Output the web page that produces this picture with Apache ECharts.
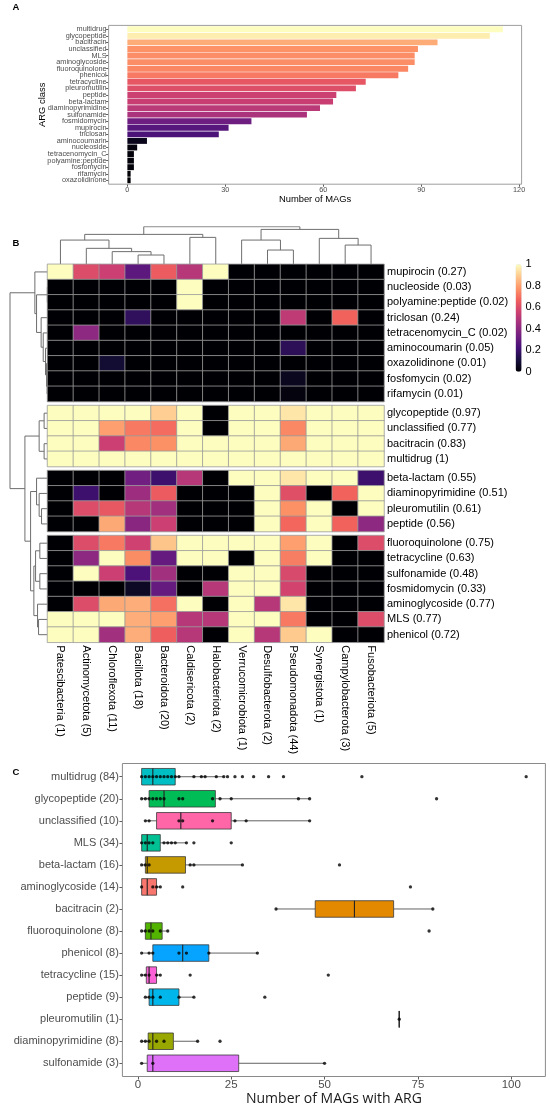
<!DOCTYPE html>
<html>
<head>
<meta charset="utf-8">
<script src="https://cdn.jsdelivr.net/npm/echarts@6/dist/echarts.min.js"></script>
<style>
html, body { margin: 0; padding: 0; background: #fff; }
#main { width: 550px; height: 1115px; }
</style>
</head>
<body>
<div id="main"></div>
<script>
// magma palette (viridisLite magma(10))
var magma = ['#000004', '#180F3E', '#451077', '#721F81', '#9F2F7F', '#CD4071', '#F1605D', '#FD9567', '#FEC98D', '#FCFDBF'];

// ---- panel A : number of MAGs per ARG class
var argClass = ['multidrug', 'glycopeptide', 'bacitracin', 'unclassified', 'MLS', 'aminoglycoside',
    'fluoroquinolone', 'phenicol', 'tetracycline', 'pleuromutilin', 'peptide', 'beta-lactam',
    'diaminopyrimidine', 'sulfonamide', 'fosmidomycin', 'mupirocin', 'triclosan', 'aminocoumarin',
    'nucleoside', 'tetracenomycin_C', 'polyamine:peptide', 'fosfomycin', 'rifamycin', 'oxazolidinone'];
var argCount = [115, 111, 95, 89, 88, 88, 86, 83, 73, 70, 64, 63, 59, 55, 38, 31, 28, 6, 3, 2, 2, 2, 1, 1];
var axisTicksA = [0, 30, 60, 90, 120];

// ---- panel B : heatmap (share of MAGs per phylum)
var phyla = ['Patescibacteria (1)', 'Actinomycetota (5)', 'Chloroflexota (11)', 'Bacillota (18)',
    'Bacteroidota (20)', 'Caldisericota (2)', 'Halobacteriota (2)', 'Verrucomicrobiota (1)',
    'Desulfobacterota (2)', 'Pseudomonadota (44)', 'Synergistota (1)', 'Campylobacterota (3)',
    'Fusobacteriota (5)'];
var hmRows = ['mupirocin (0.27)', 'nucleoside (0.03)', 'polyamine:peptide (0.02)', 'triclosan (0.24)',
    'tetracenomycin_C (0.02)', 'aminocoumarin (0.05)', 'oxazolidinone (0.01)', 'fosfomycin (0.02)',
    'rifamycin (0.01)', 'glycopeptide (0.97)', 'unclassified (0.77)', 'bacitracin (0.83)', 'multidrug (1)',
    'beta-lactam (0.55)', 'diaminopyrimidine (0.51)', 'pleuromutilin (0.61)', 'peptide (0.56)',
    'fluoroquinolone (0.75)', 'tetracycline (0.63)', 'sulfonamide (0.48)', 'fosmidomycin (0.33)',
    'aminoglycoside (0.77)', 'MLS (0.77)', 'phenicol (0.72)'];
var hmValues = [
    [1, 0.6, 0.55, 0.28, 0.65, 0.5, 1, 0, 0, 0, 0, 0, 0],
    [0, 0, 0, 0, 0, 1, 0, 0, 0, 0, 0, 0, 0],
    [0, 0, 0, 0, 0, 1, 0, 0, 0, 0, 0, 0, 0],
    [0, 0, 0, 0.17, 0, 0, 0, 0, 0, 0.52, 0, 0.67, 0],
    [0, 0.4, 0, 0, 0, 0, 0, 0, 0, 0, 0, 0, 0],
    [0, 0, 0, 0, 0, 0, 0, 0, 0, 0.16, 0, 0, 0],
    [0, 0, 0.09, 0, 0, 0, 0, 0, 0, 0, 0, 0, 0],
    [0, 0, 0, 0, 0, 0, 0, 0, 0, 0.05, 0, 0, 0],
    [0, 0, 0, 0, 0, 0, 0, 0, 0, 0.02, 0, 0, 0],
    [1, 1, 1, 1, 0.9, 1, 0, 1, 1, 0.95, 1, 1, 1],
    [1, 1, 0.8, 0.72, 0.69, 1, 0, 1, 1, 0.75, 1, 1, 1],
    [1, 1, 0.55, 0.75, 0.77, 1, 1, 1, 1, 0.82, 1, 1, 1],
    [1, 1, 1, 1, 1, 1, 1, 1, 1, 1, 1, 1, 1],
    [0, 0, 0, 0.33, 0.2, 0.5, 0, 1, 1, 0.95, 1, 1, 0.2],
    [0, 0.2, 0, 0.44, 0.65, 0, 0, 0, 1, 0.61, 0, 0.67, 1],
    [0, 0.6, 0.64, 0.5, 0.45, 0, 0, 0, 1, 0.77, 1, 0, 1],
    [0, 0, 0.82, 0.39, 0.55, 0, 0, 0, 1, 0.68, 1, 0.67, 0.4],
    [0, 0.6, 0.72, 0.56, 0.88, 1, 1, 1, 1, 0.8, 1, 0, 0.6],
    [0, 0.4, 1, 0.76, 0.3, 1, 1, 0, 1, 0.73, 1, 0, 0],
    [0, 1, 0.55, 0.24, 0.45, 0, 0, 1, 1, 0.59, 0, 0, 0],
    [0, 0, 0, 0.06, 0.3, 0, 0.5, 1, 1, 0.57, 0, 0, 0],
    [0, 0.6, 0.82, 0.83, 0.7, 1, 0, 1, 0.5, 0.95, 0, 0, 0],
    [1, 1, 1, 0.83, 0.8, 0.5, 0.5, 1, 1, 0.72, 0, 0, 0.6],
    [1, 1, 0.45, 0.83, 0.66, 0.5, 0, 1, 0.5, 0.89, 1, 0, 0]
];
var rowGaps = [9, 13, 17];
// hclust style merges: negative = leaf, positive = earlier merge
var colMerge = [[-4, -5], [-3, 1], [-2, 2], [-1, 3], [-6, -7], [4, 5], [-9, -10], [-8, 7], [-12, -13], [-11, 9], [8, 10], [6, 11]];
var colHeight = [9.3, 12.7, 16, 24.3, 27, 30, 14.3, 24.3, 19.3, 26, 35, 37.7];
var rowMerge = [[-8, -9], [-7, 1], [-6, 2], [-5, 3], [-4, 4], [-2, -3], [6, 5], [-1, 7],
    [-10, -11], [-12, -13], [9, 10], [-16, -17], [-15, 12], [-14, 13],
    [-18, -19], [-20, -21], [15, 16], [-23, -24], [-22, 18], [17, 19], [14, 20], [11, 21], [8, 22]];
var rowHeight = [0.4, 1.0, 2.0, 4.3, 6.4, 0.2, 11, 12.7, 3.4, 3.4, 8.4, 6, 8.4, 11,
    7.7, 7.7, 12, 9, 10, 13.7, 17, 22.7, 37.7];

// ---- panel C : MAGs with ARG per class
var boxClass = ['multidrug (84)', 'glycopeptide (20)', 'unclassified (10)', 'MLS (34)', 'beta-lactam (16)',
    'aminoglycoside (14)', 'bacitracin (2)', 'fluoroquinolone (8)', 'phenicol (8)', 'tetracycline (15)',
    'peptide (9)', 'pleuromutilin (1)', 'diaminopyrimidine (8)', 'sulfonamide (3)'];
// lower whisker, Q1, median, Q3, upper whisker
var boxStats = [
    [1, 1, 4, 10, 23],
    [1, 3, 7, 20.75, 46],
    [2, 5, 11.5, 25, 46],
    [1, 1, 2.5, 6, 13],
    [1, 2, 2.5, 12.75, 28],
    [1, 1, 2.5, 5, 6],
    [37, 47.5, 58, 68.5, 79],
    [1, 2, 3.5, 6.5, 8],
    [1, 4, 12, 19, 32],
    [1, 2.25, 3, 5, 6],
    [2, 3, 4, 11, 15],
    [70, 70, 70, 70, 70],
    [1, 2.75, 4, 9.5, 16],
    [1, 2.5, 4, 27, 50]
];
var boxPoints = [
    [1, 2, 3, 4, 5, 6, 7, 8, 9, 10, 11, 15, 17, 18, 21, 23, 24, 26, 28, 31, 35, 39, 60, 104],
    [1, 2, 3, 4, 5, 6, 7, 11, 12, 20, 22, 25, 43, 46, 80],
    [2, 3, 11, 12, 20, 26, 29, 46],
    [1, 2, 3, 4, 7, 8, 9, 10, 13, 15, 25],
    [1, 2, 3, 14, 15, 28, 54],
    [1, 4, 5, 6, 12, 73],
    [37, 79],
    [1, 2, 3, 4, 6, 8, 78],
    [1, 3, 4, 11, 13, 19, 32],
    [1, 2, 3, 5, 6, 14, 51],
    [2, 3, 4, 6, 11, 15, 34],
    [70],
    [1, 2, 3, 5, 7, 16, 22],
    [1, 4, 50]
];
var boxColors = ['#00BFC4', '#00BC56', '#FF66A8', '#00C094', '#C49A00', '#F8766D', '#E38900',
    '#53B400', '#06A4FF', '#FB61D7', '#00B6EB', '#A58AFF', '#99A800', '#DF70F8'];
var axisTicksC = [0, 25, 50, 75, 100];

// ---- layout
var hmLeft = 47.5, hmWidth = 336.5, hmTop = 264.3, rowH = 15.25, gapPx = 4;
var gapFrac = gapPx / rowH;
var font = 'Liberation Sans, Arial, sans-serif';

function dendroLines(merge, height, leafPos, vertical) {
    var nodes = [], out = [];
    function get(k) { return k < 0 ? {p: leafPos[-k - 1], h: 0} : nodes[k - 1]; }
    merge.forEach(function (m, i) {
        var a = get(m[0]), b = get(m[1]), h = height[i];
        nodes.push({p: (a.p + b.p) / 2, h: h});
        var pts = [[a.p, a.h], [a.p, h], [b.p, h], [b.p, b.h]];
        out.push({coords: vertical ? pts : pts.map(function (q) { return [q[1], q[0]]; })});
    });
    return out;
}

var colLeaf = phyla.map(function (p, i) { return i; });
var rowLeaf = hmRows.map(function (r, i) {
    return i + gapFrac * rowGaps.filter(function (g) { return i >= g; }).length;
});

var chart = echarts.init(document.getElementById('main'));

var grids = [
    {left: 108.6, right: 28.4, top: 26.0, height: 157.6},          // A
    {left: hmLeft, width: hmWidth, top: 226.7, height: hmTop - 226.7}, // col dendrogram
    {left: 10, width: hmLeft - 10, top: hmTop, height: 24 * rowH + 3 * gapPx} // row dendrogram
];
var xAxes = [
    {gridIndex: 0, type: 'value', min: -5.75, max: 120.75, offset: 0.6,
        axisLine: {show: false, onZero: false}, splitLine: {show: false},
        axisTick: {show: true, customValues: axisTicksA, length: 2.5, lineStyle: {color: '#333', width: 0.8}},
        axisLabel: {customValues: axisTicksA, fontSize: 7.3, color: '#4d4d4d', margin: 2},
        name: 'Number of MAGs', nameLocation: 'middle', nameGap: 11, nameMoveOverlap: false,
        nameTextStyle: {fontSize: 9.4, color: '#000'}},
    {gridIndex: 1, type: 'value', min: -0.5, max: 12.5, show: false},
    {gridIndex: 2, type: 'value', min: 0, max: 37.7, inverse: true, show: false}
];
var yAxes = [
    {gridIndex: 0, type: 'category', data: argClass, inverse: true,
        axisLine: {show: false, onZero: false},
        axisTick: {show: true, alignWithLabel: true, interval: 0, length: 2.5, lineStyle: {color: '#333', width: 0.8}},
        axisLabel: {interval: 0, fontSize: 7.3, color: '#4d4d4d', margin: 2},
        name: 'ARG class', nameLocation: 'middle', nameRotate: 90, nameGap: 62, nameMoveOverlap: false,
        nameTextStyle: {fontSize: 9.4, color: '#000'}},
    {gridIndex: 1, type: 'value', min: 0, max: 37.7, show: false},
    {gridIndex: 2, type: 'value', min: -0.5, max: 23.5 + rowGaps.length * gapFrac, inverse: true, show: false}
];

var series = [
    {type: 'bar', xAxisIndex: 0, yAxisIndex: 0, barCategoryGap: '10%',
        encode: {x: 0, y: 1},
        data: argClass.map(function (c, i) { return [argCount[i], c]; })},
    {type: 'lines', coordinateSystem: 'cartesian2d', xAxisIndex: 1, yAxisIndex: 1, polyline: true, silent: true,
        lineStyle: {color: '#6e6e6e', width: 1, opacity: 1},
        data: dendroLines(colMerge, colHeight, colLeaf, true)},
    {type: 'lines', coordinateSystem: 'cartesian2d', xAxisIndex: 2, yAxisIndex: 2, polyline: true, silent: true,
        lineStyle: {color: '#6e6e6e', width: 1, opacity: 1},
        data: dendroLines(rowMerge, rowHeight, rowLeaf, false)}
];

// heatmap blocks split by the row gaps
var starts = [0].concat(rowGaps), ends = rowGaps.concat([hmRows.length]);
var hmSeries = [];
starts.forEach(function (s, b) {
    var e = ends[b];
    var gi = grids.length;
    var last = b === starts.length - 1;
    grids.push({left: hmLeft, width: hmWidth, top: hmTop + s * rowH + b * gapPx, height: (e - s) * rowH});
    xAxes.push({gridIndex: gi, type: 'category', data: phyla, show: last,
        axisLine: {show: false}, axisTick: {show: false}, splitLine: {show: false},
        axisLabel: {interval: 0, rotate: -90, fontSize: 11, color: '#000', margin: 3}});
    yAxes.push({gridIndex: gi, type: 'category', data: hmRows.slice(s, e), inverse: true, position: 'right',
        axisLine: {show: false}, axisTick: {show: false}, splitLine: {show: false},
        axisLabel: {interval: 0, fontSize: 11, color: '#000', margin: 3}});
    var data = [];
    for (var r = s; r < e; r++) {
        for (var c = 0; c < phyla.length; c++) data.push([c, r - s, hmValues[r][c]]);
    }
    hmSeries.push(series.length);
    series.push({type: 'heatmap', xAxisIndex: gi, yAxisIndex: gi, data: data, silent: true,
        itemStyle: {borderColor: '#9a9a9a', borderWidth: 0.8}});
});

// colour key labels
var keyGrid = grids.length;
grids.push({left: 515.6, width: 6, top: hmTop, height: 107.5});
xAxes.push({gridIndex: keyGrid, type: 'value', show: false, min: 0, max: 1});
yAxes.push({gridIndex: keyGrid, type: 'value', min: 0, max: 1, interval: 0.2, position: 'right',
    axisLine: {show: false, onZero: false}, axisTick: {show: false}, splitLine: {show: false},
    axisLabel: {fontSize: 11, color: '#000', margin: 4}});

// panel C
var cGrid = grids.length;
grids.push({left: 122.4, right: 4.6, top: 765.7, height: 308.6});
xAxes.push({gridIndex: cGrid, type: 'value', min: -4.15, max: 109.15, offset: 2.2,
    axisLine: {show: false, onZero: false}, splitLine: {show: false},
    axisTick: {show: true, customValues: axisTicksC, length: 3, lineStyle: {color: '#333', width: 0.8}},
    axisLabel: {customValues: axisTicksC, fontSize: 11.5, color: '#4d4d4d', margin: 2.5},
    name: 'Number of MAGs with ARG', nameLocation: 'middle', nameGap: 16, nameMoveOverlap: false,
    nameTextStyle: {fontSize: 14, color: '#1a1a1a', fontFamily: 'Open Sans'}});
yAxes.push({gridIndex: cGrid, type: 'category', data: boxClass, inverse: true,
    axisLine: {show: false, onZero: false},
    axisTick: {show: true, alignWithLabel: true, interval: 0, length: 3, lineStyle: {color: '#333', width: 0.8}},
    axisLabel: {interval: 0, fontSize: 11, color: '#4d4d4d', margin: 3.5}});

function renderBox(params, api) {
    var i = api.value(0);
    var y = api.coord([0, i])[1];
    var h = api.size([0, 1])[1] * 0.75;
    var x = [1, 2, 3, 4, 5].map(function (d) { return api.coord([api.value(d), i])[0]; });
    var ln = {stroke: '#3a3a3a', lineWidth: 0.8};
    return {type: 'group', children: [
        {type: 'line', shape: {x1: x[0], y1: y, x2: x[1], y2: y}, style: ln},
        {type: 'line', shape: {x1: x[3], y1: y, x2: x[4], y2: y}, style: ln},
        {type: 'rect', shape: {x: x[1], y: y - h / 2, width: x[3] - x[1], height: h},
            style: {fill: boxColors[i], stroke: '#3a3a3a', lineWidth: 0.8}},
        {type: 'line', shape: {x1: x[2], y1: y - h / 2, x2: x[2], y2: y + h / 2},
            style: {stroke: '#222', lineWidth: 1.1}}
    ]};
}

series.push({type: 'custom', xAxisIndex: cGrid, yAxisIndex: cGrid, renderItem: renderBox, silent: true,
    encode: {x: [1, 2, 3, 4, 5], y: 0},
    data: boxStats.map(function (b, i) { return [i].concat(b); })});

var pts = [];
boxPoints.forEach(function (arr, i) { arr.forEach(function (v) { pts.push([v, i]); }); });
series.push({type: 'scatter', xAxisIndex: cGrid, yAxisIndex: cGrid, symbolSize: 3.3, silent: true,
    itemStyle: {color: '#000'}, z: 5, data: pts});

function panelLetter(t, x, y) {
    return {type: 'text', x: x, y: y, silent: true,
        style: {text: t, fill: '#000', font: 'bold 9.5px ' + font, align: 'center', verticalAlign: 'middle'}};
}
function frame(x, y, w, h, col) {
    return {type: 'rect', shape: {x: x, y: y, width: w, height: h}, z: 100, silent: true,
        style: {fill: 'none', stroke: col, lineWidth: 1}};
}

var option = {
    animation: false,
    backgroundColor: '#fff',
    textStyle: {fontFamily: font},
    grid: grids,
    xAxis: xAxes,
    yAxis: yAxes,
    visualMap: [
        {type: 'continuous', show: false, seriesIndex: 0, dimension: 0, min: 1, max: 115,
            inRange: {color: magma}},
        {type: 'continuous', seriesIndex: hmSeries, dimension: 2, min: 0, max: 1,
            inRange: {color: magma}, left: 515.6, top: hmTop, itemWidth: 6, itemHeight: 107.5,
            padding: 0, calculable: false, hoverLink: false}
    ],
    graphic: [
        panelLetter('A', 16, 7.5),
        panelLetter('B', 16, 243),
        panelLetter('C', 16, 772.7),
        frame(108.6, 25.4, 413, 158.8, '#9e9e9e'),
        frame(122.4, 763.5, 423, 313, '#8a8a8a')
    ],
    series: series
};

chart.setOption(option);
</script>
</body>
</html>
